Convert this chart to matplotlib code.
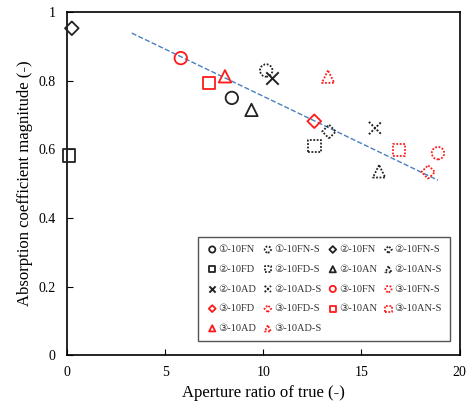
import matplotlib
matplotlib.use("Agg")
import matplotlib.pyplot as plt
from matplotlib.ticker import FuncFormatter

plt.rcParams['font.family'] = ['Liberation Serif', 'DejaVu Sans', 'Noto Sans CJK JP']

labels = ["①-10FN", "①-10FN-S", "②-10FN", "②-10FN-S",
          "②-10FD", "②-10FD-S", "②-10AN", "②-10AN-S",
          "②-10AD", "②-10AD-S", "③-10FN", "③-10FN-S",
          "③-10FD", "③-10FD-S", "③-10AN", "③-10AN-S",
          "③-10AD", "③-10AD-S"]
x_vals = [8.4, 10.15, 0.25, 13.35,
          0.1, 12.6, 9.4, 15.9,
          10.45, 15.7, 5.8, 18.9,
          12.6, 18.4, 7.25, 16.9,
          8.05, 13.3]
y_vals = [0.750, 0.830, 0.953, 0.652,
          0.582, 0.610, 0.715, 0.536,
          0.808, 0.662, 0.866, 0.589,
          0.682, 0.534, 0.793, 0.598,
          0.813, 0.812]
markers = ['o', 'o', 'D', 'D', 's', 's', '^', '^', 'x', 'x',
           'o', 'o', 'D', 'D', 's', 's', '^', '^']
colors = ['#222222'] * 10 + ['#ff1a1a'] * 8

trend_x = [3.3, 18.9]
trend_y = [0.939, 0.510]

fig, ax = plt.subplots(figsize=(4.68, 4.05), dpi=100)
fig.subplots_adjust(left=0.143, right=0.982, top=0.97, bottom=0.123)

handles = []
for i, (lab, xv, yv, m, c) in enumerate(zip(labels, x_vals, y_vals, markers, colors)):
    dotted = lab.endswith('-S')
    ls = (0, (1.0, 0.9)) if dotted else '-'
    size = 80 if m != 'D' else 48
    if m == 'x':
        h = ax.scatter([xv], [yv], marker=m, s=size, c=c, linewidths=1.4,
                       linestyle=ls, label=lab, zorder=3, clip_on=False)
    else:
        h = ax.scatter([xv], [yv], marker=m, s=size, facecolors='none',
                       edgecolors=c, linewidths=1.3,
                       linestyle=ls, label=lab, zorder=3, clip_on=False)
    handles.append(h)

ax.plot(trend_x, trend_y, linestyle='--', color='#4a7fc1', linewidth=1.0, zorder=2)

ax.set_xlim(0, 20)
ax.set_ylim(0, 1)
ax.set_xticks([0, 5, 10, 15, 20])
ax.set_yticks([0, 0.2, 0.4, 0.6, 0.8, 1.0])
ax.yaxis.set_major_formatter(FuncFormatter(lambda v, p: ('%g' % round(v, 2))))
ax.tick_params(direction='in', length=4, labelsize=10, pad=8)
for s in ax.spines.values():
    s.set_linewidth(1.2)

ax.set_xlabel('Aperture ratio of true (-)', fontsize=12)
ax.set_ylabel('Absorption coefficient magnitude (-)', fontsize=12)

# legend: row-major order in 4 columns
ncol = 4
nrow = (len(handles) + ncol - 1) // ncol
order = []
for c in range(ncol):
    for r in range(nrow):
        idx = r * ncol + c
        if idx < len(handles):
            order.append(idx)
leg = ax.legend([handles[i] for i in order], [labels[i] for i in order],
                ncol=ncol, loc='lower right', bbox_to_anchor=(0.99, 0.025),
                fontsize=7.5, handletextpad=0.0, columnspacing=0.5,
                labelspacing=1.0, handlelength=1.2, markerscale=0.5,
                fancybox=False, edgecolor='#555555', framealpha=1,
                borderpad=0.8)
leg.get_frame().set_linewidth(1.0)
leg.set_zorder(5)
for t in leg.get_texts():
    t.set_color('#333333')

fig.savefig('out.png', dpi=100)
